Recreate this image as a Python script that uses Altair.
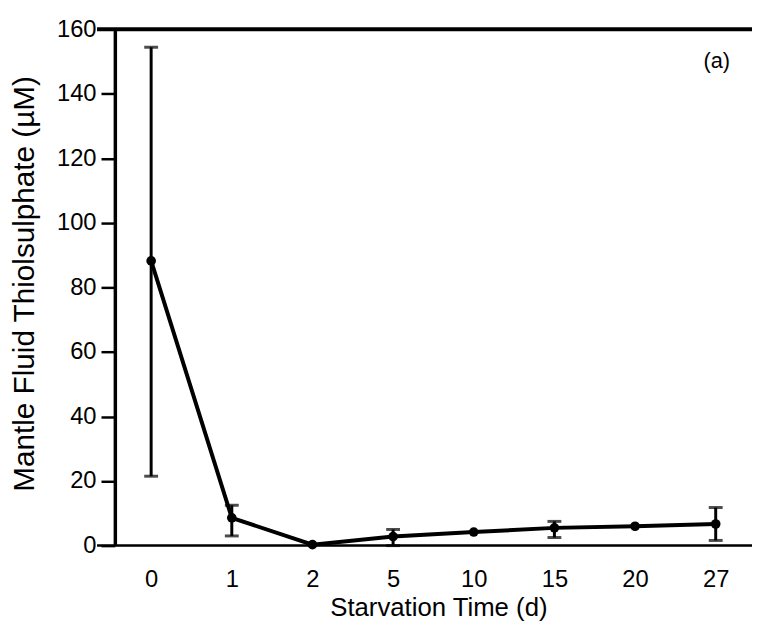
import altair as alt
import pandas as pd

days = ["0", "1", "2", "5", "10", "15", "20", "27"]
mean = [88.2, 8.6, 0.3, 2.8, 4.2, 5.5, 6.0, 6.7]
err_lo = [21.5, 3.0, 0.3, 0.0, 4.2, 2.5, 6.0, 1.6]
err_hi = [154.4, 12.5, 0.3, 5.0, 4.2, 7.5, 6.0, 11.8]
has_err = [True, True, False, True, False, True, False, True]

df = pd.DataFrame({"day": days, "mean": mean, "lo": err_lo, "hi": err_hi, "err": has_err})
edf = df[df["err"]]

W, H = 644, 522
FONT = "Liberation Sans"

xscale = alt.Scale(type="point", padding=0.45)
xaxis = alt.Axis(title="Starvation Time (d)", labelAngle=0, ticks=False, domain=False,
                 labelPadding=22, labelFontSize=24, titleFontSize=26,
                 titleX=327, titleY=63, titleBaseline="middle",
                 labelColor="black", titleColor="black", labelFont=FONT, titleFont=FONT,
                 titleFontWeight="normal")
xenc = alt.X("day:O", sort=days, scale=xscale, axis=xaxis)
yscale = alt.Scale(domain=[0, 160], nice=False)
yenc = alt.Y("mean:Q", scale=yscale,
             axis=alt.Axis(title="Mantle Fluid Thiolsulphate (µM)", values=list(range(0, 161, 20)),
                           grid=False, tickSize=14, tickWidth=2.5, tickColor="black",
                           domainColor="black", domainWidth=3.5, labelPadding=5,
                           labelFontSize=24, titleFontSize=30, labelColor="black", titleColor="black",
                           labelFont=FONT, titleFont=FONT, titleFontWeight="normal",
                           titleX=-91, titleY=257, titleBaseline="middle"))

base = alt.Chart(df)

line = base.mark_line(color="black", strokeWidth=4).encode(x=xenc, y=yenc)
pts = base.mark_point(filled=True, color="black", size=95, opacity=1).encode(x=xenc, y=yenc)

ebase = alt.Chart(edf)
evert = ebase.mark_rule(color="black", strokeWidth=3).encode(
    x=xenc, y=alt.Y("lo:Q", scale=yscale), y2="hi:Q")
cap_lo = ebase.mark_tick(color="black", thickness=3, size=14, orient="horizontal").encode(
    x=xenc, y=alt.Y("lo:Q", scale=yscale))
cap_hi = ebase.mark_tick(color="black", thickness=3, size=14, orient="horizontal").encode(
    x=xenc, y=alt.Y("hi:Q", scale=yscale))

frame = pd.DataFrame({"yv": [160, 0]})
top_rule = alt.Chart(frame.iloc[[0]]).mark_rule(color="black", strokeWidth=4).encode(
    y=alt.Y("yv:Q", scale=yscale), x=alt.value(-18), x2=alt.value(W))
bot_rule = alt.Chart(frame.iloc[[1]]).mark_rule(color="black", strokeWidth=2.5).encode(
    y=alt.Y("yv:Q", scale=yscale), x=alt.value(-18), x2=alt.value(W))

label_df = pd.DataFrame({"day": ["27"], "yv": [150], "t": ["(a)"]})
label = alt.Chart(label_df).mark_text(font=FONT, fontSize=22, color="black", dx=1).encode(
    x=xenc, y=alt.Y("yv:Q", scale=yscale), text="t:N")

chart = alt.layer(evert, cap_lo, cap_hi, line, pts, top_rule, bot_rule, label).properties(
    width=W, height=H,
    autosize=alt.AutoSizeParams(type="none"),
    padding={"left": 108, "top": 18, "right": 0, "bottom": 90},
).configure_view(stroke=None).configure(background="white")

chart.save("out.html", embed_options={"renderer": "svg", "actions": False})
